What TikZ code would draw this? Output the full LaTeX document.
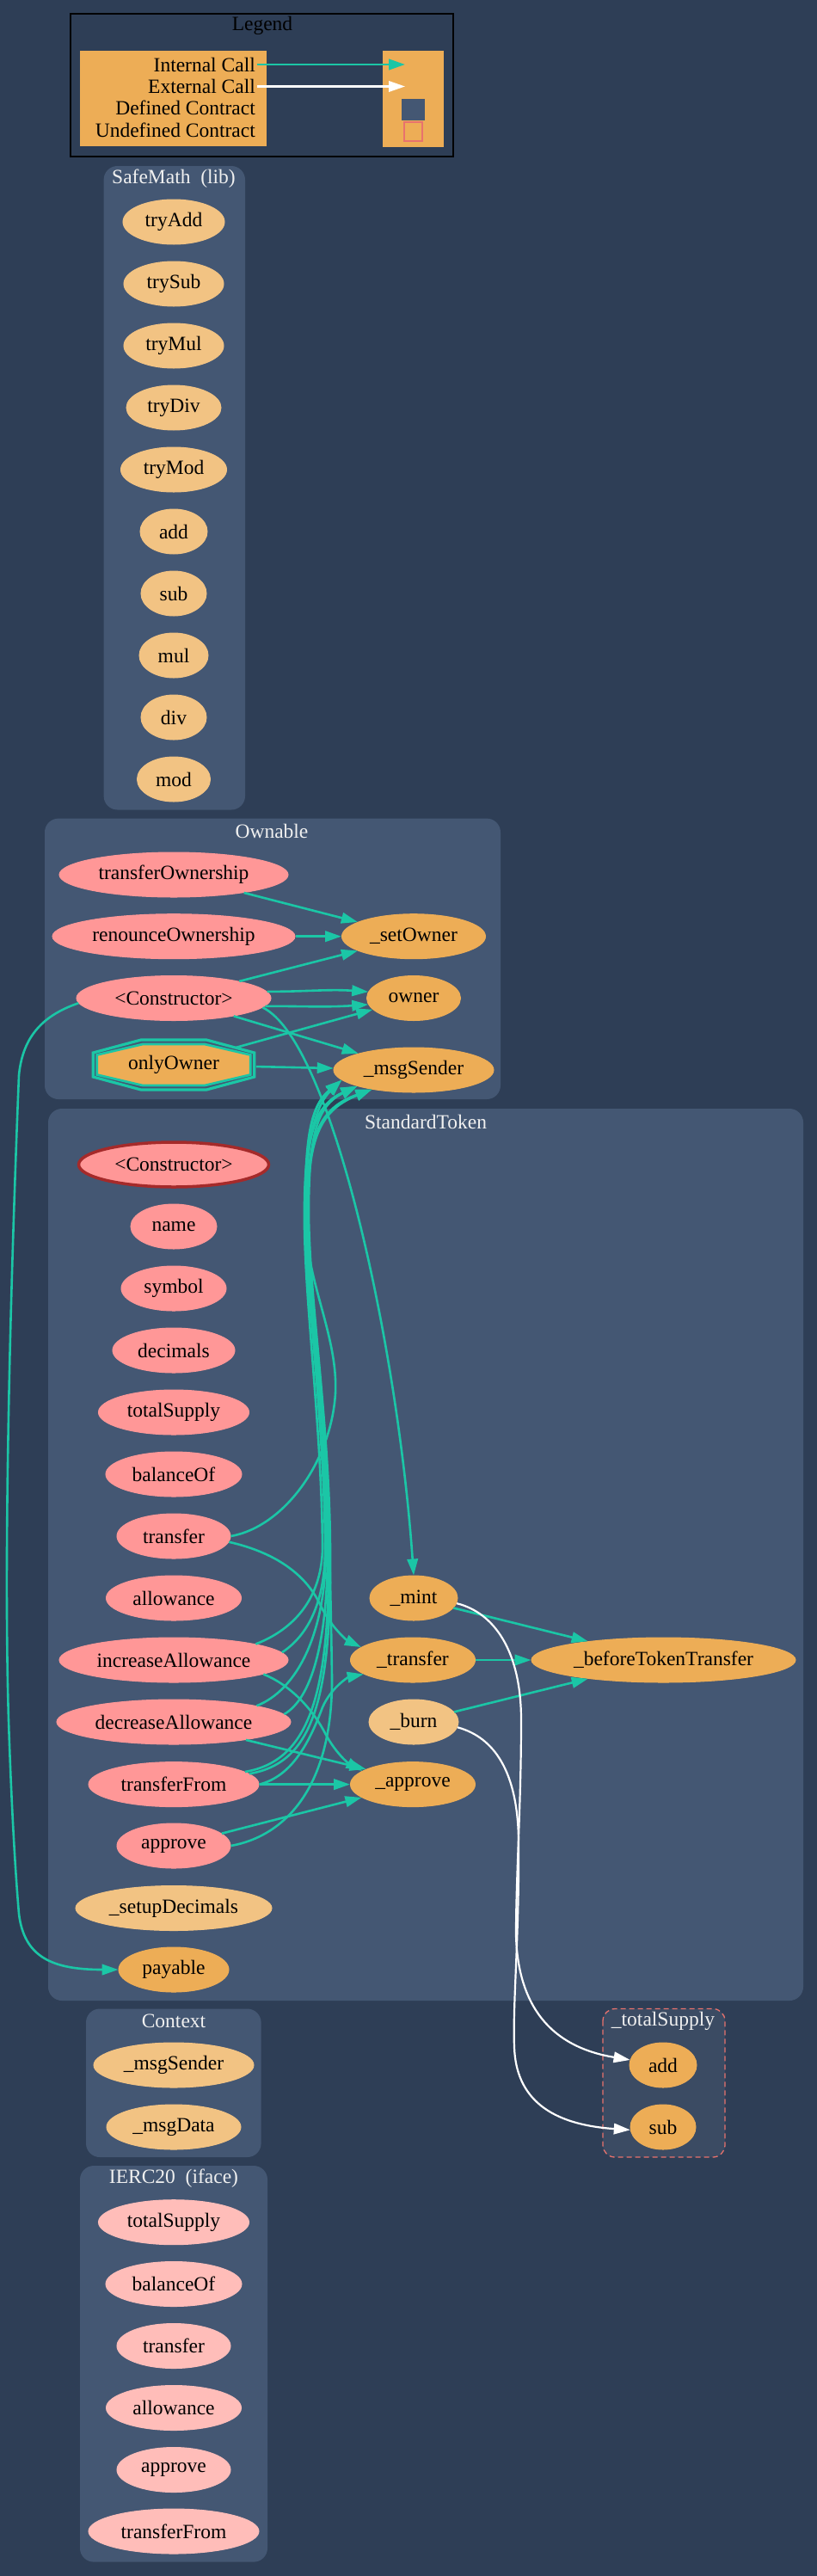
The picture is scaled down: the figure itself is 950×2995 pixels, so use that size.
\documentclass[tikz,border=0pt]{standalone}
\usepackage{fontspec}
\setmainfont{Liberation Serif}
\usetikzlibrary{arrows.meta,shapes.geometric}
\definecolor{bgnavy}{HTML}{2E3E56}
\definecolor{clusterfill}{HTML}{445773}
\definecolor{undeffill}{HTML}{3B4B63}
\definecolor{undefline}{HTML}{E8726D}
\definecolor{fnpub}{HTML}{FF9797}
\definecolor{fnext}{HTML}{FFBDB9}
\definecolor{fnpriv}{HTML}{EDAD56}
\definecolor{fnint}{HTML}{F2C383}
\definecolor{callgreen}{HTML}{1BC6A6}
\definecolor{titlegray}{HTML}{F0F0F0}
\definecolor{ctorbrown}{HTML}{A52A2A}
\tikzset{
  fn/.style={ellipse, inner sep=0pt, minimum height=52pt, line width=1pt,
    font=\fontsize{23.5}{28}\selectfont, text=black},
  fnpublic/.style={fn, fill=fnpub, draw=fnpub},
  fnexternal/.style={fn, fill=fnext, draw=fnext},
  fnprivate/.style={fn, fill=fnpriv, draw=fnpriv},
  fninternal/.style={fn, fill=fnint, draw=fnint},
  cluster/.style={fill=clusterfill, rounded corners=16pt},
  clustertitle/.style={text=titlegray, inner sep=0pt, font=\fontsize{23.5}{28}\selectfont},
  keytext/.style={anchor=east, inner sep=2pt, text=black, font=\fontsize{23.5}{28}\selectfont},
  call/.style={->, draw=callgreen, line width=2.6pt},
  extcall/.style={->, draw=white, line width=2.2pt}
}

\begin{document}
\begin{tikzpicture}[x=1pt, y=-1pt, >={Triangle[length=19pt,width=12.5pt]}]

\useasboundingbox (0,0) rectangle (950,2995);
\fill[bgnavy] (0,0) rectangle (950,2995);

% --- Legend ---
\draw[black, line width=1.5pt] (82,16) rectangle (527,182);
\node[keytext, anchor=center] (legendTitle) at (305,30) {Legend};
\fill[fnpriv] (93,59) rectangle (310,170);
\fill[fnpriv] (445,59) rectangle (516,171);
\node[keytext] (keyInternal) at (299,75) {Internal Call};
\node[keytext] (keyExternal) at (299,100.5) {External Call};
\node[keytext] (keyDefined) at (299,125.5) {Defined Contract};
\node[keytext] (keyUndefined) at (299,151) {Undefined Contract};
\coordinate (keyInternalTip) at (471,75);
\coordinate (keyExternalTip) at (471,100.5);
\draw[call] (keyInternal.east) -- (keyInternalTip);
\draw[extcall] (keyExternal.east) -- (keyExternalTip);
\fill[clusterfill] (467,114.5) rectangle (494,140);
\draw[undefline, line width=1.2pt] (470,142) rectangle (491,164);

% --- SafeMath (lib) ---
\fill[cluster] (120.6,193) rectangle (285,941.5);
\node[clustertitle] (smTitle) at (202,208) {SafeMath~ (lib)};
\node[fninternal, minimum width=118pt] (smTryAdd) at (202,258) {tryAdd};
\node[fninternal, minimum width=116pt] (smTrySub) at (202,330) {trySub};
\node[fninternal, minimum width=116pt] (smTryMul) at (202,402) {tryMul};
\node[fninternal, minimum width=110pt] (smTryDiv) at (202,474) {tryDiv};
\node[fninternal, minimum width=123pt] (smTryMod) at (202,546) {tryMod};
\node[fninternal, minimum width=78pt] (smAdd) at (202,618) {add};
\node[fninternal, minimum width=76pt] (smSub) at (202,690) {sub};
\node[fninternal, minimum width=80pt] (smMul) at (202,762) {mul};
\node[fninternal, minimum width=76pt] (smDiv) at (202,834) {div};
\node[fninternal, minimum width=85pt] (smMod) at (202,906) {mod};

% --- Ownable ---
\fill[cluster] (52,951.6) rectangle (582,1278);
\node[clustertitle] (ownTitle) at (316,966) {Ownable};
\node[fnpublic, minimum width=266pt] (ownTransfer) at (202,1017) {transferOwnership};
\node[fnpublic, minimum width=282pt] (ownRenounce) at (202,1088.7) {renounceOwnership};
\node[fnpublic, minimum width=226pt] (ownCtor) at (202,1160.5) {\textless Constructor\textgreater};
\begin{scope}[shift={(202,1238)}]
  \draw[callgreen, line width=3.2pt] (-38,-29) -- (38,-29) -- (93.8,-14) -- (93.8,14)
    -- (38,29) -- (-38,29) -- (-93.8,14) -- (-93.8,-14) -- cycle;
  \draw[callgreen, fill=fnpriv, line width=2.7pt] (-36,-24) -- (36,-24) -- (89.3,-11.5) -- (89.3,11.5)
    -- (36,24) -- (-36,24) -- (-89.3,11.5) -- (-89.3,-11.5) -- cycle;
\end{scope}
\node[fn, minimum width=191pt, minimum height=61pt] (onlyOwner) at (202,1238) {onlyOwner};
\node[fnprivate, minimum width=167pt] (ownSetOwner) at (481,1088.7) {\_setOwner};
\node[fnprivate, minimum width=109pt] (ownOwner) at (481,1160.5) {owner};
\node[fnprivate, minimum width=186pt] (ownMsgSender) at (481,1244) {\_msgSender};

% --- StandardToken ---
\fill[cluster] (56,1289) rectangle (934,2326);
\node[clustertitle] (stTitle) at (495,1304) {StandardToken};
\node[fnpublic, draw=ctorbrown, line width=3.5pt, minimum width=221pt] (stCtor) at (202,1354) {\textless Constructor\textgreater};
\node[fnpublic, minimum width=100pt] (stName) at (202,1426) {name};
\node[fnpublic, minimum width=122pt] (stSymbol) at (202,1498) {symbol};
\node[fnpublic, minimum width=142pt] (stDecimals) at (202,1570) {decimals};
\node[fnpublic, minimum width=175pt] (stTotalSupply) at (202,1642) {totalSupply};
\node[fnpublic, minimum width=158pt] (stBalanceOf) at (202,1714) {balanceOf};
\node[fnpublic, minimum width=132pt] (stTransfer) at (202,1786) {transfer};
\node[fnpublic, minimum width=157pt] (stAllowance) at (202,1858) {allowance};
\node[fnpublic, minimum width=266pt] (stIncrease) at (202,1930) {increaseAllowance};
\node[fnpublic, minimum width=272pt] (stDecrease) at (202,2002) {decreaseAllowance};
\node[fnpublic, minimum width=198pt] (stTransferFrom) at (202,2074.6) {transferFrom};
\node[fnpublic, minimum width=132pt] (stApprove) at (202,2146) {approve};
\node[fninternal, minimum width=228pt] (stSetupDecimals) at (202,2218.5) {\_setupDecimals};
\node[fnprivate, minimum width=128pt] (stPayable) at (202,2290) {payable};
\node[fnprivate, minimum width=102pt] (stMint) at (481,1858) {\_mint};
\node[fnprivate, minimum width=145pt] (stTransferInt) at (480,1930) {\_transfer};
\node[fninternal, minimum width=104pt] (stBurn) at (481,2002) {\_burn};
\node[fnprivate, minimum width=145pt] (stApproveInt) at (480,2074.6) {\_approve};
\node[fnprivate, minimum width=307pt] (stBefore) at (771.5,1930) {\_beforeTokenTransfer};

% --- Context ---
\fill[cluster] (100,2335.5) rectangle (303.6,2508);
\node[clustertitle] (ctxTitle) at (202,2349.6) {Context};
\node[fninternal, minimum width=186pt] (ctxMsgSender) at (202,2401) {\_msgSender};
\node[fninternal, minimum width=156pt] (ctxMsgData) at (202,2473) {\_msgData};

% --- _totalSupply (undefined) ---
\filldraw[fill=undeffill, draw=undefline, line width=1.3pt, dash pattern=on 6pt off 4pt,
  rounded corners=14pt] (701,2335.5) rectangle (843,2508);
\node[clustertitle] (tsTitle) at (771,2349.6) {\_totalSupply};
\node[fnprivate, minimum width=78pt] (tsAdd) at (771,2401) {add};
\node[fnprivate, minimum width=76pt] (tsSub) at (771,2473) {sub};

% --- IERC20 (iface) ---
\fill[cluster] (93,2518) rectangle (311,2978.6);
\node[clustertitle] (ercTitle) at (202,2532.7) {IERC20~ (iface)};
\node[fnexternal, minimum width=175pt] (ercTotalSupply) at (202,2583.7) {totalSupply};
\node[fnexternal, minimum width=158pt] (ercBalanceOf) at (202,2655.5) {balanceOf};
\node[fnexternal, minimum width=132pt] (ercTransfer) at (202,2727.5) {transfer};
\node[fnexternal, minimum width=157pt] (ercAllowance) at (202,2799.5) {allowance};
\node[fnexternal, minimum width=132pt] (ercApprove) at (202,2871.5) {approve};
\node[fnexternal, minimum width=198pt] (ercTransferFrom) at (202,2943) {transferFrom};

% --- Calls in Ownable ---
\draw[call] (ownTransfer) -- (ownSetOwner);
\draw[call] (ownRenounce) -- (ownSetOwner);
\draw[call] (ownCtor) -- (ownSetOwner);
\draw[call] (ownCtor.4) to[out=0,in=176] (ownOwner.172);
\draw[call] (ownCtor.-5) to[out=0,in=184] (ownOwner.188);
\draw[call] (ownCtor) -- (ownMsgSender);
\draw[call] (ownCtor.-6) .. controls (385,1210) and (462,1560) .. (stMint.north);
\draw[call] (ownCtor.183) .. controls (45,1182) and (26,1210) .. (22,1250)
  .. controls (12,1500) and (4,1800) .. (10,2000) .. controls (14,2120) and (19,2190) .. (22,2225)
  .. controls (28,2275) and (60,2290) .. (stPayable.west);
\draw[call] (onlyOwner) -- (ownOwner);
\draw[call] (onlyOwner) -- (ownMsgSender);

% --- Calls up to _msgSender ---
\draw[call] (stTransfer.east) .. controls (330,1775) and (385,1700) .. (390,1620)
  .. controls (393,1560) and (362,1500) .. (357,1440) .. controls (352,1350) and (362,1290) .. (ownMsgSender.188);
\draw[call] (stIncrease.11) .. controls (340,1895) and (374,1860) .. (375,1800)
  .. controls (374,1650) and (352,1500) .. (354,1400) .. controls (355,1320) and (366,1285) .. (ownMsgSender.196);
\draw[call] (stIncrease.4) .. controls (360,1900) and (378,1860) .. (378,1800)
  .. controls (377,1650) and (355,1500) .. (357,1400) .. controls (358,1320) and (372,1288) .. (ownMsgSender.205);
\draw[call] (stDecrease.11) .. controls (345,1965) and (379,1900) .. (379,1800)
  .. controls (378,1650) and (354,1500) .. (355,1400) .. controls (356,1320) and (366,1285) .. (ownMsgSender.196);
\draw[call] (stDecrease.4) .. controls (362,1975) and (381,1910) .. (381,1800)
  .. controls (380,1650) and (357,1500) .. (358,1400) .. controls (359,1320) and (374,1290) .. (ownMsgSender.205);
\draw[call] (stTransferFrom.10) .. controls (355,2048) and (384,1980) .. (382,1800)
  .. controls (381,1650) and (356,1500) .. (356,1400) .. controls (356,1320) and (362,1285) .. (ownMsgSender.188);
\draw[call] (stTransferFrom.8) .. controls (360,2050) and (386,1985) .. (384,1800)
  .. controls (383,1650) and (358,1500) .. (359,1400) .. controls (360,1320) and (368,1286) .. (ownMsgSender.196);
\draw[call] (stApprove.east) .. controls (330,2135) and (387,2080) .. (386,1950)
  .. controls (385,1880) and (384,1840) .. (383,1800) .. controls (382,1650) and (355,1500) .. (355,1400)
  .. controls (355,1320) and (362,1285) .. (ownMsgSender.188);

% --- Calls in StandardToken ---
\draw[call] (stTransfer.-6) .. controls (320,1805) and (355,1830) .. (372,1865)
  .. controls (385,1893) and (405,1908) .. (stTransferInt.166);
\draw[call] (stIncrease.-9.5) .. controls (340,1960) and (365,1990) .. (378,2015)
  .. controls (390,2038) and (405,2050) .. (stApproveInt.165);
\draw[call] (stDecrease.-14) -- (stApproveInt.162);
\draw[call] (stTransferFrom.east) .. controls (340,2065) and (360,2025) .. (375,1985)
  .. controls (385,1962) and (405,1950) .. (stTransferInt.196);
\draw[call] (stTransferFrom) -- (stApproveInt);
\draw[call] (stApprove) -- (stApproveInt);
\draw[call] (stMint) -- (stBefore);
\draw[call] (stTransferInt) -- (stBefore);
\draw[call] (stBurn) -- (stBefore);

% --- External calls ---
\draw[extcall] (stMint.-7) .. controls (575,1875) and (606,1920) .. (606,2000)
  .. controls (606,2100) and (600,2180) .. (600,2250) .. controls (602,2320) and (630,2378) .. (tsAdd.171);
\draw[extcall] (stBurn.-7) .. controls (575,2020) and (602,2060) .. (603,2140)
  .. controls (604,2250) and (596,2330) .. (598,2380) .. controls (600,2440) and (640,2470) .. (tsSub.185);

\end{tikzpicture}
\end{document}
